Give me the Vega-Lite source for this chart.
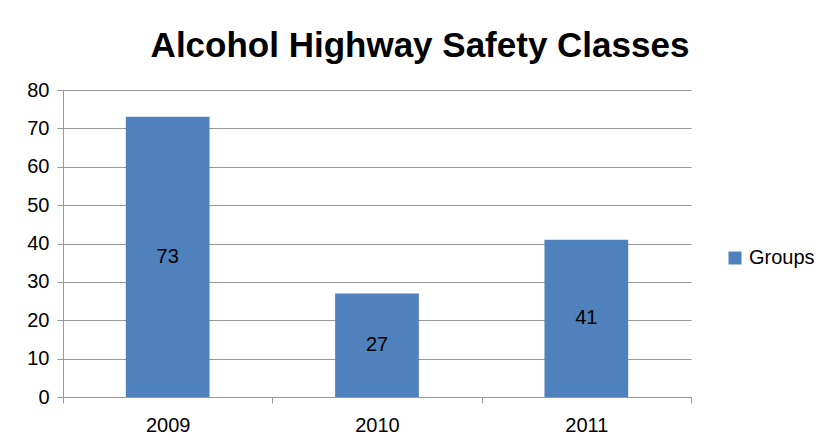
{
  "$schema": "https://vega.github.io/schema/vega-lite/v6.json",
  "width": 628,
  "height": 307,
  "autosize": {"type": "none"},
  "padding": {"left": 63, "top": 90, "right": 146, "bottom": 51},
  "background": "white",
  "title": {
    "text": "Alcohol Highway Safety Classes",
    "font": "Liberation Sans",
    "fontSize": 35,
    "fontWeight": "bold",
    "color": "#000000",
    "anchor": "middle",
    "frame": "group",
    "dx": 43,
    "dy": 46,
    "baseline": "alphabetic",
    "offset": 34
  },
  "data": {
    "values": [
      {"year": "2009", "value": 73, "series": "Groups"},
      {"year": "2010", "value": 27, "series": "Groups"},
      {"year": "2011", "value": 41, "series": "Groups"}
    ]
  },
  "encoding": {
    "x": {
      "field": "year",
      "type": "nominal",
      "scale": {"paddingInner": 0, "paddingOuter": 0},
      "axis": {
        "title": null,
        "labelAngle": 0,
        "tickBand": "extent",
        "labelFont": "Liberation Sans",
        "labelFontSize": 20,
        "labelColor": "#000000",
        "labelPadding": 12,
        "tickSize": 6,
        "tickColor": "#999999",
        "domainColor": "#999999",
        "grid": false
      }
    }
  },
  "layer": [
    {
      "mark": {"type": "bar", "color": "#4F81BD", "width": {"band": 0.4}},
      "encoding": {
        "y": {
          "field": "value",
          "type": "quantitative",
          "scale": {"domain": [0, 80], "nice": false},
          "axis": {
            "title": null,
            "values": [0, 10, 20, 30, 40, 50, 60, 70, 80],
            "labelFont": "Liberation Sans",
            "labelFontSize": 20,
            "labelColor": "#000000",
            "labelPadding": 8,
            "labelOverlap": false,
            "tickSize": 6,
            "tickColor": "#999999",
            "domainColor": "#999999",
            "gridColor": "#999999",
            "gridOpacity": 1
          }
        },
        "color": {
          "field": "series",
          "type": "nominal",
          "scale": {"range": ["#4F81BD"]},
          "legend": {
            "title": null,
            "orient": "none",
            "legendX": 662,
            "legendY": 158,
            "symbolType": "square",
            "symbolSize": 169,
            "symbolStrokeWidth": 0,
            "labelFont": "Liberation Sans",
            "labelFontSize": 20,
            "labelColor": "#000000",
            "labelOffset": 4
          }
        }
      }
    },
    {
      "mark": {"type": "text", "font": "Liberation Sans", "fontSize": 20, "color": "#000000", "baseline": "middle"},
      "encoding": {
        "y": {
          "field": "value",
          "type": "quantitative",
          "stack": "zero",
          "bandPosition": 0.5,
          "scale": {"domain": [0, 80], "nice": false},
          "axis": {
            "title": null,
            "values": [0, 10, 20, 30, 40, 50, 60, 70, 80],
            "labelFont": "Liberation Sans",
            "labelFontSize": 20,
            "labelColor": "#000000",
            "labelPadding": 8,
            "labelOverlap": false,
            "tickSize": 6,
            "tickColor": "#999999",
            "domainColor": "#999999",
            "gridColor": "#999999",
            "gridOpacity": 1
          }
        },
        "text": {"field": "value", "type": "quantitative"}
      }
    }
  ],
  "config": {"view": {"stroke": null}}
}
